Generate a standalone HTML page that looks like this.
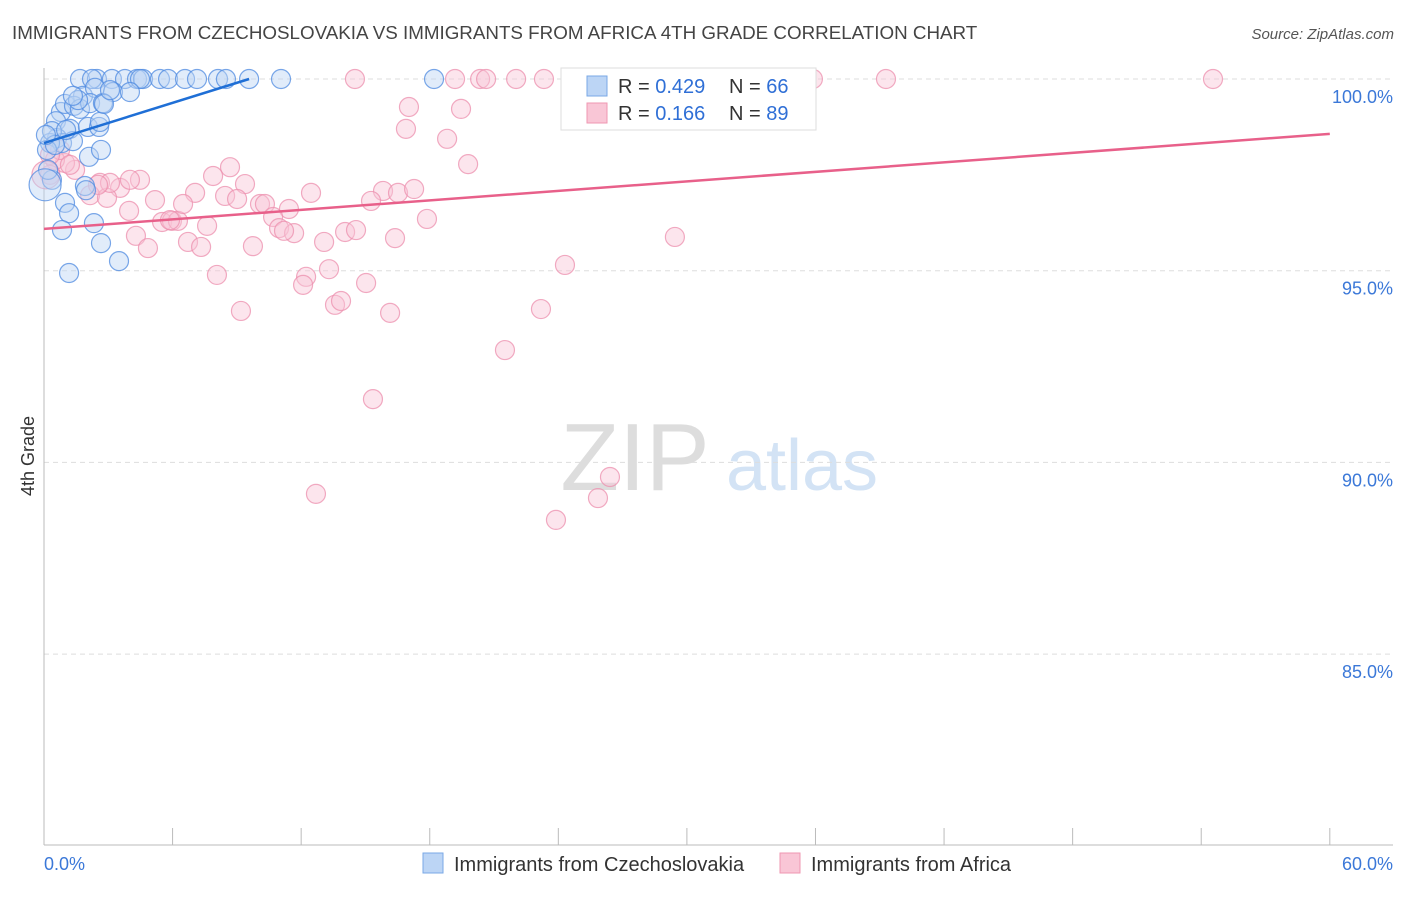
<!DOCTYPE html>
<html><head><meta charset="utf-8"><style>
body{margin:0;background:#fff;font-family:"Liberation Sans",sans-serif;}
svg text{font-family:"Liberation Sans",sans-serif;}
</style></head><body>
<svg id="chart" width="1406" height="892" viewBox="0 0 1406 892" xmlns="http://www.w3.org/2000/svg">
<text x="12" y="39" font-size="18.8" fill="#444">IMMIGRANTS FROM CZECHOSLOVAKIA VS IMMIGRANTS FROM AFRICA 4TH GRADE CORRELATION CHART</text>
<text x="1394" y="39" font-size="15" fill="#555" text-anchor="end" font-style="italic">Source: ZipAtlas.com</text>
<text transform="translate(34,456) rotate(-90)" font-size="18" fill="#333" text-anchor="middle">4th Grade</text>
<g>
<text x="635" y="490" font-size="96" fill="#ddd" text-anchor="middle" font-family="Liberation Serif,serif">ZIP</text>
<text x="802" y="490" font-size="72" fill="#d3e3f5" text-anchor="middle">atlas</text>
</g>
<g id="grid"></g><g id="axes"></g><g id="pts"></g><g id="trends"></g>
<g>
<rect x="561" y="68" width="255" height="62" fill="#fff" stroke="#ddd"/>
<rect x="587" y="76" width="20" height="20" fill="#bcd5f5" stroke="#7aa8e6"/>
<rect x="587" y="103" width="20" height="20" fill="#f9c6d6" stroke="#ef97b2"/>
<text x="618" y="93" font-size="20" fill="#333">R = <tspan fill="#2f6fd6">0.429</tspan></text>
<text x="729" y="93" font-size="20" fill="#333">N = <tspan fill="#2f6fd6">66</tspan></text>
<text x="618" y="120" font-size="20" fill="#333">R =  <tspan fill="#2f6fd6">0.166</tspan></text>
<text x="729" y="120" font-size="20" fill="#333">N = <tspan fill="#2f6fd6">89</tspan></text>
</g>
<g>
<rect x="423" y="853" width="20" height="20" fill="#bcd5f5" stroke="#7aa8e6"/>
<text x="454" y="871" font-size="20" fill="#333">Immigrants from Czechoslovakia</text>
<rect x="780" y="853" width="20" height="20" fill="#f9c6d6" stroke="#ef97b2"/>
<text x="811" y="871" font-size="20" fill="#333">Immigrants from Africa</text>
</g>
</svg>
<script>
const blueX=[1.68,2.47,3.17,3.78,4.34,4.62,5.41,5.79,6.58,7.14,8.12,8.49,9.57,11.06,18.2,2.24,4.48,1.82,2.38,3.22,4.01,0.79,0.98,1.40,1.68,2.15,2.75,0.56,1.21,2.05,2.57,2.61,0.61,0.84,0.28,1.35,0.14,0.37,2.10,2.66,1.91,1.96,0.98,1.17,0.84,2.33,2.66,1.17,3.50,0.37,0.19,0.51,0.09,1.03,1.59,2.80,1.35,3.08];
const blueY=[100,100,100,100,100,100,100,100,100,100,100,100,100,100,100,100,100,99.56,99.77,99.66,99.66,99.14,99.35,99.30,99.22,99.37,99.37,98.90,98.70,98.75,98.75,98.88,98.46,98.33,98.33,98.38,98.15,98.64,97.97,98.15,97.21,97.10,96.77,96.50,96.06,96.24,95.72,94.94,95.25,97.37,97.63,98.28,98.54,98.67,99.45,99.35,99.56,99.71];
const pinkX=[14.51,19.18,20.35,20.63,22.03,23.33,24.78,33.18,34.11,35.88,39.29,54.55,17.03,19.46,16.89,18.81,19.79,8.68,7.89,9.38,12.46,15.82,16.52,17.27,4.48,3.55,2.61,1.45,0.98,0.51,0.28,0.75,0.28,2.15,2.94,5.18,7.05,8.45,9.01,10.08,10.31,11.43,15.26,3.97,5.51,5.97,6.25,6.49,7.61,10.69,10.97,11.67,13.07,14.05,14.56,16.38,17.87,4.29,4.85,6.72,7.33,9.75,11.20,29.44,8.07,12.23,13.30,12.09,15.03,24.31,9.19,13.58,13.86,16.15,23.19,21.51,15.35,12.69,23.89,25.85,26.41,1.21,3.08,4.01,5.88,2.52];
const pinkY=[100,100,100,100,100,100,100,100,100,100,100,100,99.27,99.22,98.70,98.44,97.78,97.70,97.47,97.26,97.03,97.08,97.03,97.13,97.37,97.16,97.29,97.63,97.81,97.89,97.50,98.15,98.02,96.97,96.90,96.84,97.03,96.95,96.87,96.74,96.74,96.61,96.82,96.56,96.27,96.30,96.30,96.74,96.17,96.40,96.11,95.98,95.75,96.01,96.06,95.85,96.35,95.91,95.59,95.75,95.62,95.64,96.04,95.88,94.89,94.84,95.04,94.63,94.68,95.15,93.95,94.11,94.21,93.90,94.00,92.93,91.65,89.18,88.50,89.07,89.62,97.76,97.29,97.37,96.32,97.24];
const blueBig=[[0.05,97.24]];
const pinkBig=[[0.09,97.5]];
const blueTrend=[[0,98.33],[9.57,100]];
const pinkTrend=[[0,96.09],[60,98.57]];
const yTicks=[100,95,90,85];
const xTickLabels=["0.0%","60.0%"];
const NS="http://www.w3.org/2000/svg";
const X=v=>44+v*21.43, Y=v=>79+(100-v)*38.34;
function mk(tag,attrs,parent){const e=document.createElementNS(NS,tag);for(const k in attrs)e.setAttribute(k,attrs[k]);document.getElementById(parent).appendChild(e);return e;}
yTicks.forEach(t=>{
 const l=mk('line',{x1:44,x2:1393,y1:Y(t),y2:Y(t),stroke:'#ddd','stroke-dasharray':'5,4'},'grid');
 
 
 const tx=mk('text',{x:1393,y:Y(t)+24,'font-size':18,fill:'#3b78d8','text-anchor':'end'},'axes');
 tx.textContent=t.toFixed(1)+'%';
 
 
});
const ax=mk('line',{x1:44,x2:44,y1:68,y2:845,stroke:'#bbb'},'axes');


const bx=mk('line',{x1:44,x2:1393,y1:845,y2:845,stroke:'#bbb'},'axes');


for(let i=0;i<=10;i++){const t=mk('line',{x1:X(i*6),x2:X(i*6),y1:828,y2:845,stroke:'#bbb'},'axes');
 
 }
[[0,'start'],[60,'end']].forEach((p,i)=>{const t=mk('text',{x:p[0]?1393:44,y:870,'font-size':18,fill:'#3b78d8','text-anchor':p[1]},'axes');t.textContent=xTickLabels[i];
 
 });
function dot(x,y,r,c,s,name){const d=mk('circle',{cx:X(x),cy:Y(y),r:r,fill:c,'fill-opacity':0.45,stroke:s,'stroke-opacity':0.75,'stroke-width':1.2},'pts');
 
 }
pinkX.forEach((x,i)=>dot(x,pinkY[i],9.5,'#f9c6d6','#ec8fad','point-africa'));
pinkBig.forEach(p=>dot(p[0],p[1],14,'#f9c6d6','#ec8fad','point-africa'));
blueX.forEach((x,i)=>dot(x,blueY[i],9.5,'#bcd5f5','#4d8ae0','point-czech'));
blueBig.forEach(p=>dot(p[0],p[1],16,'#bcd5f5','#4d8ae0','point-czech'));
const tb=mk('line',{x1:X(blueTrend[0][0]),y1:Y(blueTrend[0][1]),x2:X(blueTrend[1][0]),y2:Y(blueTrend[1][1]),stroke:'#1f6fd6','stroke-width':2.5},'trends');


const tp=mk('line',{x1:X(pinkTrend[0][0]),y1:Y(pinkTrend[0][1]),x2:X(pinkTrend[1][0]),y2:Y(pinkTrend[1][1]),stroke:'#e8608a','stroke-width':2.5},'trends');


</script>
</body></html>
